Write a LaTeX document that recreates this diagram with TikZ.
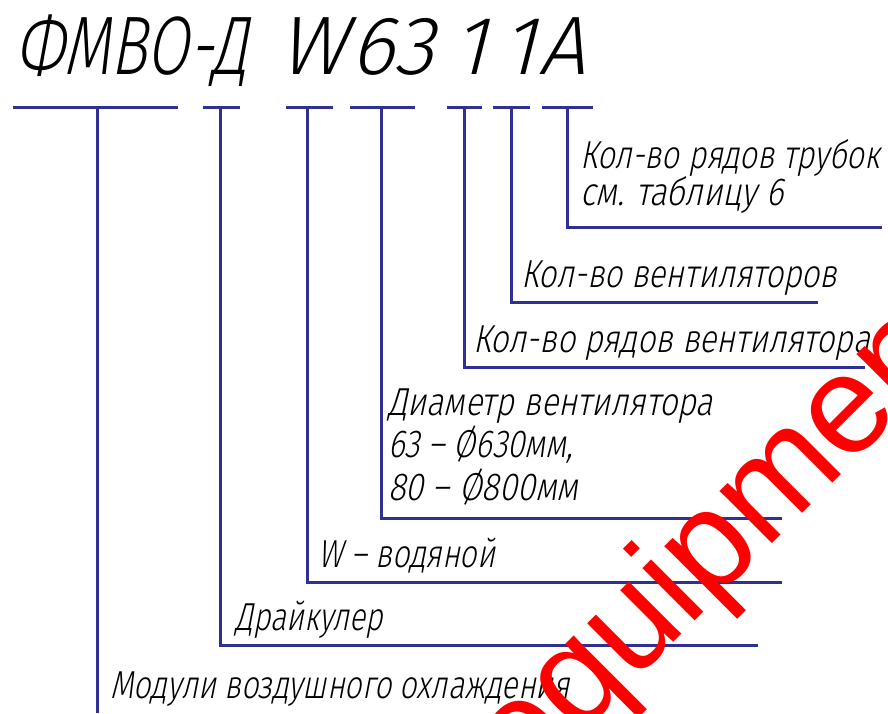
\documentclass[tikz,border=0pt]{standalone}
\usepackage{fontspec}
\usepackage{graphicx}
\newfontfamily\gost{Fira Sans Light}[FakeSlant=0.25]
\newfontfamily\wmfont{Liberation Sans}
\definecolor{leadblue}{RGB}{46,49,146}
\definecolor{wmred}{RGB}{255,0,0}
\newcommand\fitto[2]{\resizebox{#1pt}{\height}{#2}}
\begin{document}
\begin{tikzpicture}[x=1pt,y=-1pt,
  lead/.style={draw=leadblue, line width=3pt},
  lbl/.style={anchor=base west, inner sep=0pt, text=black, font=\gost\fontsize{39}{39}\selectfont},
  ttl/.style={anchor=base, inner sep=0pt, text=black, font=\gost\fontsize{83}{83}\selectfont},
  wm/.style={anchor=base west, inner sep=0pt, text=wmred, rotate=45, font=\wmfont\fontsize{140}{140}\selectfont},
]
\useasboundingbox[fill=white] (0,0) rectangle (888,713);

% title
\node[ttl, anchor=base west] (tFMVO) at (15,74) {\fitto{233}{ФМВО-Д}};
\node[ttl] (tW) at (312,74) {W};
\node[ttl] (t63) at (392,74) {63};
\node[ttl] (tRows) at (470,74) {1};
\node[ttl] (tFans) at (519,74) {1};
\node[ttl] (tA) at (562,74) {A};

% top segments
\coordinate (s1a) at (13,107);  \coordinate (s1b) at (178,107);
\coordinate (s2a) at (203,107); \coordinate (s2b) at (240,107);
\coordinate (s3a) at (286,107); \coordinate (s3b) at (333,107);
\coordinate (s4a) at (350,107); \coordinate (s4b) at (415,107);
\coordinate (s5a) at (447,107); \coordinate (s5b) at (482,107);
\coordinate (s6a) at (493,107); \coordinate (s6b) at (530,107);
\coordinate (s7a) at (542,107); \coordinate (s7b) at (593,107);
\foreach \i in {1,...,7} {\draw[lead] (s\i a) -- (s\i b);}

% tick points
\coordinate (k1) at (97,107);
\coordinate (k2) at (220,107);
\coordinate (k3) at (307,107);
\coordinate (k4) at (381,107);
\coordinate (k5) at (464,107);
\coordinate (k6) at (511,107);
\coordinate (k7) at (567,107);

% end points
\coordinate (e1) at (97,713);
\coordinate (e2) at (758,645);
\coordinate (e3) at (782,582);
\coordinate (e4) at (782,518);
\coordinate (e5) at (865,367);
\coordinate (e6) at (818,302);
\coordinate (e7) at (882,227);

\draw[lead] (k1) -- (e1);
\foreach \i in {2,...,7} {\draw[lead] (k\i) |- (e\i);}

% labels
\node[lbl] (l7a) at (580,168) {\fitto{300}{Кол-во рядов трубок}};
\node[lbl] (l7b) at (580,205) {\fitto{203}{см. таблицу 6}};
\node[lbl] (l6) at (521,287) {\fitto{316}{Кол-во вентиляторов}};
\begin{scope}
\clip (0,0) rectangle (888,713);
\node[lbl] (l5) at (473,352) {\fitto{397}{Кол-во рядов вентилятора}\hspace{10pt}1};
\end{scope}
\node[lbl] (l4a) at (388,415) {\fitto{325}{Диаметр вентилятора}};
\node[lbl] (l4b) at (388,457) {\fitto{185}{63 – Ø630мм,}};
\node[lbl] (l4c) at (388,500) {\fitto{190}{80 – Ø800мм}};
\node[lbl] (l3) at (318,567) {\fitto{177}{W – водяной}};
\node[lbl] (l2) at (235,630) {\fitto{148}{Драйкулер}};
\node[lbl] (l1) at (110,698) {\fitto{460}{Модули воздушного охлаждения}};

% watermark
\begin{scope}
\clip (0,0) rectangle (888,713);
\node[wm] (wmark) at (523,793) {equipment};
\end{scope}
\end{tikzpicture}
\end{document}
